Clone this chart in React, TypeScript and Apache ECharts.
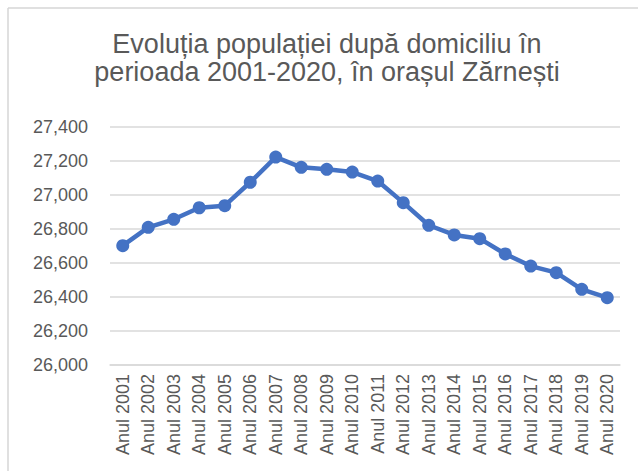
import React, { useEffect, useRef } from "react";
import * as echarts from "echarts";

const titleLines = ["Evoluția populației după domiciliu în", "perioada 2001-2020, în orașul Zărnești"];
const categories = [
  "Anul 2001", "Anul 2002", "Anul 2003", "Anul 2004", "Anul 2005",
  "Anul 2006", "Anul 2007", "Anul 2008", "Anul 2009", "Anul 2010",
  "Anul 2011", "Anul 2012", "Anul 2013", "Anul 2014", "Anul 2015",
  "Anul 2016", "Anul 2017", "Anul 2018", "Anul 2019", "Anul 2020",
];
const population = [
  26702, 26810, 26857, 26925, 26937, 27075, 27223, 27163, 27151, 27135,
  27082, 26955, 26822, 26765, 26743, 26653, 26582, 26543, 26445, 26396,
];
const yMin = 26000;
const yMax = 27400;
const yStep = 200;

export default function App() {
  const ref = useRef<HTMLDivElement>(null);
  useEffect(() => {
    document.body.style.margin = "0";
    if (!ref.current) return;
    const chart = echarts.init(ref.current, null, { renderer: "svg" });
    const font = "'Liberation Sans', Arial, sans-serif";
    chart.setOption({
      animation: false,
      backgroundColor: "#ffffff",
      graphic: [
        {
          type: "line",
          shape: { x1: 8, y1: 8, x2: 638, y2: 8 },
          style: { stroke: "#d6d6d6", lineWidth: 1.5 },
        },
        {
          type: "line",
          shape: { x1: 8, y1: 8, x2: 8, y2: 471 },
          style: { stroke: "#d6d6d6", lineWidth: 1.5 },
        },
        {
          type: "text",
          x: 327,
          y: 30,
          style: {
            text: titleLines.join("\n"),
            fontFamily: font,
            fontSize: 27,
            lineHeight: 28,
            fill: "#595959",
            textAlign: "center",
            textVerticalAlign: "top",
          },
        },
      ],
      grid: { left: 110, right: 18, top: 127, bottom: 106 },
      xAxis: {
        type: "category",
        data: categories,
        boundaryGap: true,
        axisLine: { show: true, lineStyle: { color: "#d9d9d9", width: 1.5 } },
        axisTick: { show: false },
        axisLabel: {
          rotate: 90,
          interval: 0,
          margin: 9,
          fontFamily: font,
          fontSize: 18,
          color: "#595959",
        },
      },
      yAxis: {
        type: "value",
        min: yMin,
        max: yMax,
        interval: yStep,
        axisLine: { show: false },
        axisTick: { show: false },
        splitLine: { lineStyle: { color: "#d9d9d9", width: 1.5 } },
        axisLabel: {
          margin: 22,
          fontFamily: font,
          fontSize: 18,
          color: "#595959",
          formatter: (v: number) => v.toLocaleString("en-US"),
        },
      },
      series: [
        {
          type: "line",
          data: population,
          symbol: "circle",
          symbolSize: 13,
          lineStyle: { color: "#4472C4", width: 4.5 },
          itemStyle: { color: "#4472C4" },
        },
      ],
    });
    return () => chart.dispose();
  }, []);
  return <div ref={ref} style={{ width: 638, height: 471 }} />;
}
